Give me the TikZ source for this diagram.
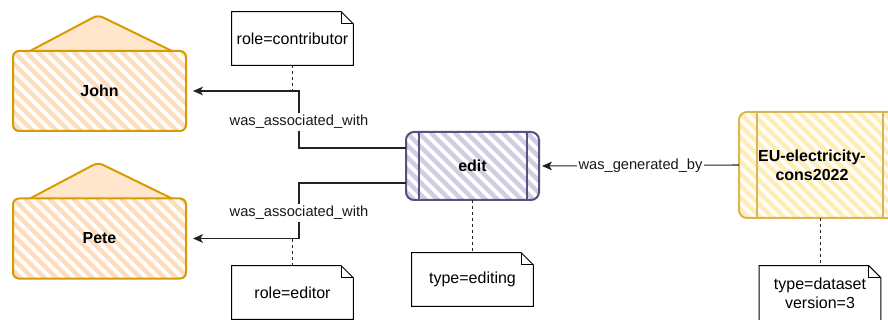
\documentclass[tikz,border=0pt]{standalone}
\usepackage{fontspec}
\setmainfont{Liberation Sans}
\usetikzlibrary{arrows.meta,backgrounds,calc}

\definecolor{orangeS}{HTML}{D79B00}
\definecolor{orangeF}{HTML}{FFE6CC}
\definecolor{orangeH}{HTML}{FFDDBB}
\definecolor{purpleS}{HTML}{56517E}
\definecolor{purpleH}{HTML}{D0CEE2}
\definecolor{yellowS}{HTML}{D6B656}
\definecolor{yellowH}{HTML}{FFEDB8}
\definecolor{inkgray}{HTML}{222222}

% outline of a note with a folded top-right corner
\newcommand\dogear[1]{%
  \filldraw[noteline,fill=white] (#1.south west) -- (#1.north west) -- ([xshift=-9pt]#1.north east)
    -- ([yshift=-9pt]#1.north east) -- (#1.south east) -- cycle;
  \draw[noteline] ([xshift=-9pt]#1.north east) -- ([xshift=-9pt,yshift=-9pt]#1.north east)
    -- ([yshift=-9pt]#1.north east);}

\tikzset{
  hatch/.style={fill=white, path picture={
      \foreach \q in {-14,...,16}{
        \draw[line width=3.2pt,#1] ([xshift=\q*9pt]path picture bounding box.north west) -- ++(110pt,-110pt);}}},
  boldtext/.style={font=\bfseries\fontsize{12}{14.5}\selectfont},
  agent/.style={draw=orangeS, line width=1.5pt, rounded corners=4.5pt, hatch=orangeH,
    minimum width=129.75pt, minimum height=60pt, inner sep=0pt, outer sep=0pt, boldtext},
  proc/.style={draw=#1, line width=1.5pt, rounded corners=6pt, inner sep=0pt, outer sep=0pt, boldtext},
  notebox/.style={minimum width=90.75pt, minimum height=39.75pt, inner sep=0pt,
    font=\fontsize{12}{14.5}\selectfont, align=center},
  noteline/.style={draw=black, line width=0.75pt},
  conn/.style={draw=inkgray, line width=0.8pt, -{Stealth[length=7.5pt,width=6.5pt,inset=2pt]}},
  dashline/.style={draw=inkgray, line width=0.75pt, dash pattern=on 2.25pt off 2.25pt},
  lbl/.style={fill=white, inner sep=1.5pt, font=\fontsize{11}{13}\selectfont, text=black!90}
}

\begin{document}
\begin{tikzpicture}[x=0.75pt,y=-0.75pt]
\clip (0,0) rectangle (888,320);

% agents
\node[agent] (john) at (99.5,91) {John};
\node[agent] (pete) at (99.5,238.5) {Pete};
\begin{scope}[on background layer]
  \foreach \a in {john,pete}
    \filldraw[fill=orangeF, draw=orangeS, line width=1.5pt, rounded corners=4pt, line join=round]
      ([xshift=12.75pt]\a.north west) -- ([xshift=-1.125pt,yshift=27pt]\a.north)
      -- ([xshift=-10.5pt]\a.north east);
\end{scope}

% activity
\node[proc=purpleS, hatch=purpleH, minimum width=99.75pt, minimum height=51pt] (edit) at (472.5,166) {edit};
\draw[purpleS, line width=1.5pt] ([xshift=9.75pt]edit.north west) -- ([xshift=9.75pt]edit.south west);
\draw[purpleS, line width=1.5pt] ([xshift=-9pt]edit.north east) -- ([xshift=-9pt]edit.south east);

% entity
\node[proc=yellowS, hatch=yellowH, minimum width=121.5pt, minimum height=79.5pt,
  label={[boldtext, align=center, xshift=-6pt]center:{EU-electricity-\\cons2022}}] (eu) at (820,165) {};
\draw[yellowS, line width=1.5pt] ([xshift=13.5pt]eu.north west) -- ([xshift=13.5pt]eu.south west);
\draw[yellowS, line width=1.5pt] ([xshift=-13.5pt]eu.north east) -- ([xshift=-13.5pt]eu.south east);

% notes
\node[notebox] (n1) at (292.5,38.5) {};
\dogear{n1}
\node[notebox] at (n1) {role=contributor};
\node[notebox] (n2) at (292.5,292.5) {};
\dogear{n2}
\node[notebox] at (n2) {role=editor};
\node[notebox] (n3) at (472.5,279.5) {};
\dogear{n3}
\node[notebox] at (n3) {type=editing};
\node[notebox, minimum height=45pt] (n4) at (820,296) {};
\dogear{n4}
\node[notebox] at (820,293) {type=dataset\\version=3};

% relations
\draw[conn] ([yshift=13.5pt]edit.west) -- ++(-107,0) |- node[lbl,pos=0.23] {was\_associated\_with}
  ([xshift=5.25pt]john.east);
\draw[conn] ([yshift=-12.75pt]edit.west) -- ++(-107,0) |- node[lbl,pos=0.27] {was\_associated\_with}
  ([xshift=5.25pt]pete.east);
\draw[conn] (eu.west) -- node[lbl] {was\_generated\_by} ([xshift=2.25pt]edit.east);

% note attachments
\draw[dashline] (n1.south) -- (n1.south |- john.east);
\draw[dashline] (n2.north) -- (n2.north |- pete.east);
\draw[dashline] (edit.south) -- (n3.north);
\draw[dashline] (eu.south) -- (n4.north);
\end{tikzpicture}
\end{document}
